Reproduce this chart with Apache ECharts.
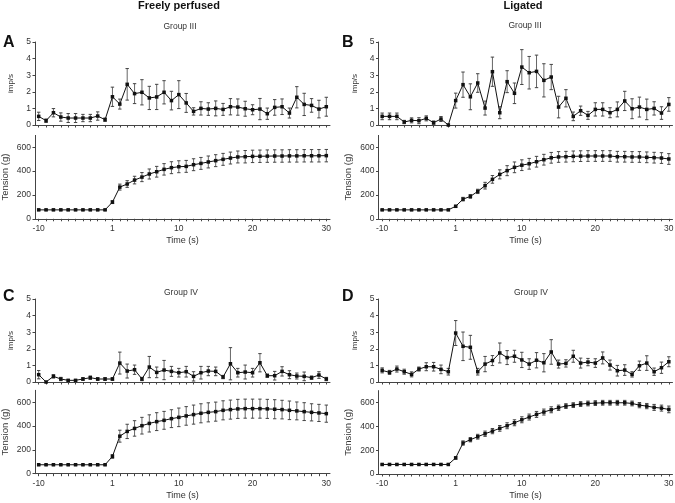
<!DOCTYPE html>
<html><head><meta charset="utf-8">
<script src="https://cdn.jsdelivr.net/npm/echarts@6/dist/echarts.min.js"></script>
<style>html,body{margin:0;padding:0;background:#fff}#c{width:675px;height:503px}</style>
</head><body><div id="c"></div>
<script>
// ---- data ----
const categories = ['-10','-9','-8','-7','-6','-5','-4','-3','-2','-1',
  '1','2','3','4','5','6','7','8','9','10','11','12','13','14','15','16','17','18','19','20',
  '21','22','23','24','25','26','27','28','29','30'];
const xTickLabels = ['-10','1','10','20','30'];
const impTicks = [0,1,2,3,4,5];
const tensionTicks = [0,200,400,600];

const aImp = [0.52,0.26,0.74,0.48,0.42,0.42,0.42,0.42,0.54,0.32,1.7,1.26,2.45,1.89,1.97,1.63,1.69,1.97,1.47,1.83,1.33,0.82,1.0,0.96,1.0,0.94,1.1,1.08,0.98,0.92,0.96,0.68,1.06,1.1,0.72,1.67,1.24,1.18,0.96,1.1];
const aImpErr = [0.25,0.1,0.25,0.25,0.27,0.27,0.22,0.22,0.25,0.1,0.58,0.3,0.95,0.6,0.76,0.7,0.76,0.7,0.56,0.84,0.57,0.22,0.4,0.38,0.45,0.36,0.49,0.49,0.45,0.3,0.64,0.34,0.47,0.47,0.3,0.64,0.67,0.41,0.53,0.57];
const aTen = [75,75,75,75,75,75,75,75,75,75,140,266,292,325,350,376,395,415,429,437,440,454,465,477,488,499,510,519,521,524,525,526,527,527,528,528,529,529,529,530];
const aTenErr = [5,5,5,5,5,5,5,5,5,5,12,25,28,32,38,42,45,48,50,50,50,50,50,50,50,50,50,50,52,52,52,52,52,52,52,52,52,52,52,52];

const bImp = [0.52,0.52,0.52,0.18,0.28,0.26,0.4,0.14,0.36,0.0,1.47,2.43,1.7,2.53,1.02,3.21,0.74,2.61,1.91,3.49,3.15,3.23,2.69,2.89,1.08,1.61,0.52,0.86,0.58,0.94,0.94,0.74,0.94,1.45,0.98,1.08,0.94,1.0,0.72,1.24];
const bImpErr = [0.2,0.2,0.2,0.1,0.15,0.18,0.15,0.1,0.15,0.0,0.45,0.76,0.78,0.56,0.42,0.88,0.36,0.66,0.62,1.05,0.98,0.98,1.0,0.76,0.65,0.52,0.26,0.28,0.24,0.4,0.4,0.3,0.45,0.58,0.6,0.6,0.62,0.4,0.38,0.41];
const bTen = [75,75,75,75,75,75,75,75,75,75,105,165,188,230,278,331,373,404,432,450,462,479,496,512,519,521,524,526,527,527,527,527,521,521,519,519,516,513,510,502];
const bTenErr = [4,4,4,4,4,4,4,4,4,4,8,15,15,18,28,32,38,42,45,45,45,45,45,45,45,45,45,45,45,45,45,45,45,45,45,45,45,45,45,45];

const cImp = [0.44,0.0,0.34,0.18,0.1,0.1,0.18,0.26,0.18,0.18,0.18,1.14,0.66,0.74,0.18,0.9,0.58,0.72,0.64,0.56,0.62,0.34,0.56,0.66,0.64,0.3,1.1,0.56,0.6,0.56,1.16,0.38,0.38,0.64,0.44,0.36,0.34,0.26,0.42,0.18];
const cImpErr = [0.25,0,0.1,0.1,0.05,0.05,0.08,0.1,0.08,0.08,0.08,0.66,0.42,0.28,0.1,0.64,0.32,0.58,0.3,0.26,0.32,0.28,0.38,0.28,0.26,0.1,0.97,0.26,0.42,0.26,0.55,0.1,0.26,0.28,0.24,0.18,0.26,0.1,0.2,0.1];
const cTen = [75,75,75,75,75,75,75,75,75,75,145,315,355,380,403,422,437,448,462,473,485,496,507,515,521,532,538,544,546,546,546,544,541,538,532,527,521,515,510,504];
const cTenErr = [4,4,4,4,4,4,4,4,4,4,15,50,60,65,70,72,75,75,75,78,78,80,80,80,80,80,80,80,80,80,80,80,80,78,78,75,75,72,72,72];

const dImp = [0.7,0.58,0.78,0.62,0.46,0.78,0.92,0.92,0.76,0.62,2.95,2.15,2.09,0.62,1.08,1.29,1.75,1.47,1.55,1.33,1.08,1.31,1.16,1.81,1.08,1.12,1.55,1.14,1.2,1.14,1.45,1.02,0.68,0.72,0.46,0.98,1.14,0.62,0.86,1.22];
const dImpErr = [0.15,0.12,0.18,0.15,0.15,0.12,0.24,0.26,0.26,0.2,0.75,0.86,0.72,0.2,0.46,0.3,0.6,0.42,0.36,0.46,0.32,0.46,0.55,0.74,0.24,0.22,0.36,0.3,0.22,0.26,0.36,0.3,0.32,0.32,0.16,0.28,0.44,0.22,0.34,0.3];
const dTen = [80,80,80,80,80,80,80,80,80,80,135,260,288,313,338,360,383,405,430,455,478,500,520,539,556,570,578,587,592,595,598,598,598,598,592,578,570,559,553,542];
const dTenErr = [4,4,4,4,4,4,4,4,4,4,10,18,18,20,22,22,24,25,25,25,25,25,25,25,22,20,20,20,20,20,20,20,20,20,20,22,22,25,25,28];

// ---- layout ----
const FONT = 'Liberation Sans, Arial, Helvetica, sans-serif';
const AX = '#444';
const panels = [
  {imp:aImp, impErr:aImpErr, ten:aTen, tenErr:aTenErr, left:35,    width:295, impTop:42,  tenTop:135.4},
  {imp:bImp, impErr:bImpErr, ten:bTen, tenErr:bTenErr, left:378.5, width:294, impTop:42,  tenTop:135.4},
  {imp:cImp, impErr:cImpErr, ten:cTen, tenErr:cTenErr, left:35,    width:295, impTop:299, tenTop:390.3},
  {imp:dImp, impErr:dImpErr, ten:dTen, tenErr:dTenErr, left:378.5, width:294, impTop:299, tenTop:390.6}
];

function errRender(params, api) {
  const i = api.value(0), v = api.value(1), e = api.value(2);
  if (!e) return null;
  const top = api.coord([i, v + e]);
  const bot = api.coord([i, Math.max(0, v - e)]);
  const w = 1.7;
  const st = {stroke:'#444', lineWidth:1};
  return {type:'group', children:[
    {type:'line', shape:{x1:top[0],y1:top[1],x2:bot[0],y2:bot[1]}, style:{stroke:'#666',lineWidth:1}},
    {type:'line', shape:{x1:top[0]-w,y1:top[1],x2:top[0]+w,y2:top[1]}, style:st},
    {type:'line', shape:{x1:bot[0]-w,y1:bot[1],x2:bot[0]+w,y2:bot[1]}, style:st}
  ]};
}

const grid = [], xAxis = [], yAxis = [], series = [];
panels.forEach((p, k) => {
  const subs = [
    {vals:p.imp, errs:p.impErr, top:p.impTop, height:83, max:5, ticks:impTicks, name:'imp/s', gap:20, nameSize:8, labels:false},
    {vals:p.ten, errs:p.tenErr, top:p.tenTop, height:83.4, max:700, ticks:tensionTicks, name:'Tension (g)', gap:25, nameSize:9.5, labels:true}
  ];
  subs.forEach(s => {
    const gi = grid.length;
    grid.push({left:p.left, top:s.top, width:p.width, height:s.height, containLabel:false, outerBoundsMode:'none'});
    xAxis.push({
      type:'category', gridIndex:gi, data:categories, boundaryGap:true,
      axisLine:{lineStyle:{color:AX, width:1}},
      axisTick:{show:true, interval:0, alignWithLabel:true, length:2.5, lineStyle:{color:AX}},
      axisLabel:{show:s.labels, interval:(idx, val) => xTickLabels.includes(val), fontSize:8.5, color:'#333', fontFamily:FONT, margin:5},
      name:s.labels ? 'Time (s)' : '', nameLocation:'middle', nameGap:17,
      nameTextStyle:{fontSize:9, color:'#333', fontFamily:FONT},
      splitLine:{show:false}
    });
    yAxis.push({
      type:'value', gridIndex:gi, min:0, max:s.max,
      axisLine:{show:true, lineStyle:{color:AX, width:1}},
      axisTick:{show:true, length:2.5, customValues:s.ticks, lineStyle:{color:AX}},
      axisLabel:{fontSize:8.5, color:'#333', fontFamily:FONT, margin:4, customValues:s.ticks},
      splitLine:{show:false},
      name:s.name, nameLocation:'middle', nameGap:s.gap, nameRotate:90,
      nameTextStyle:{fontSize:s.nameSize, color:'#333', fontFamily:FONT}
    });
    series.push({
      type:'custom', xAxisIndex:gi, yAxisIndex:gi, renderItem:errRender, z:1, clip:false,
      encode:{x:0, y:1},
      data:s.vals.map((v, i) => [i, v, s.errs[i]])
    });
    series.push({
      type:'line', xAxisIndex:gi, yAxisIndex:gi, data:s.vals, z:3,
      symbol:'rect', symbolSize:3.5, showSymbol:true,
      itemStyle:{color:'#111'}, lineStyle:{color:'#111', width:1}
    });
  });
});

const title = [
  {text:'Freely perfused', left:179, top:0, textAlign:'center', textStyle:{fontSize:11, fontWeight:'bold', color:'#111', fontFamily:FONT}},
  {text:'Ligated', left:523, top:0, textAlign:'center', textStyle:{fontSize:11, fontWeight:'bold', color:'#111', fontFamily:FONT}},
  {text:'Group III', left:180, top:22, textAlign:'center', textStyle:{fontSize:8.5, fontWeight:'normal', color:'#333', fontFamily:FONT}},
  {text:'Group III', left:525, top:21, textAlign:'center', textStyle:{fontSize:8.5, fontWeight:'normal', color:'#333', fontFamily:FONT}},
  {text:'Group IV', left:181, top:288, textAlign:'center', textStyle:{fontSize:8.5, fontWeight:'normal', color:'#333', fontFamily:FONT}},
  {text:'Group IV', left:531, top:288, textAlign:'center', textStyle:{fontSize:8.5, fontWeight:'normal', color:'#333', fontFamily:FONT}},
  {text:'A', left:3, top:35, textStyle:{fontSize:16, fontWeight:'bold', color:'#111', fontFamily:FONT}},
  {text:'B', left:342, top:35, textStyle:{fontSize:16, fontWeight:'bold', color:'#111', fontFamily:FONT}},
  {text:'C', left:3, top:289, textStyle:{fontSize:16, fontWeight:'bold', color:'#111', fontFamily:FONT}},
  {text:'D', left:342, top:289, textStyle:{fontSize:16, fontWeight:'bold', color:'#111', fontFamily:FONT}}
].map(t => Object.assign({padding:0}, t));

const chart = echarts.init(document.getElementById('c'), null, {renderer:'canvas'});
chart.setOption({animation:false, backgroundColor:'#fff', title, grid, xAxis, yAxis, series});
</script></body></html>
